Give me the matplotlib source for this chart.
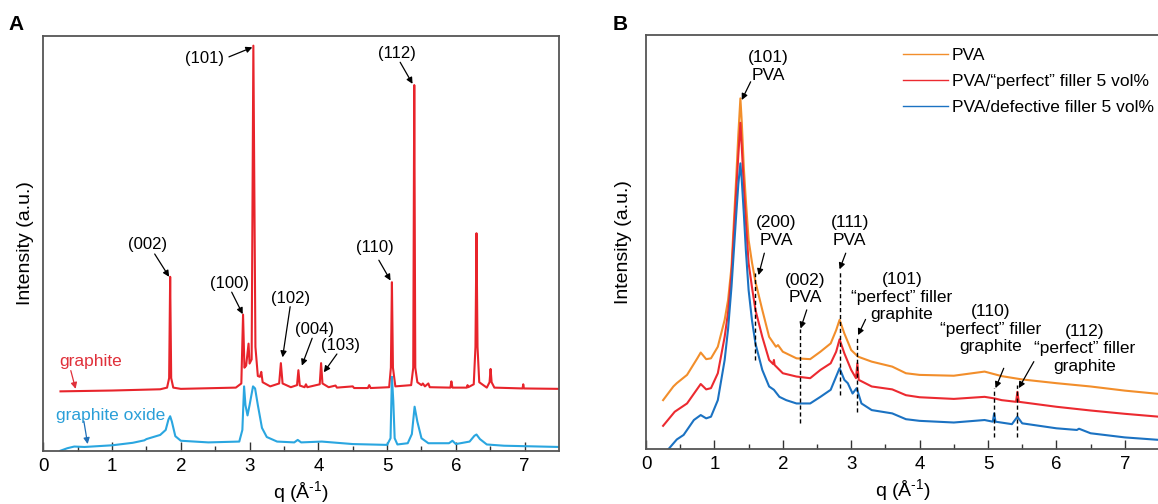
import numpy as np
import matplotlib
matplotlib.use("Agg")
import matplotlib.pyplot as plt

plt.rcParams["font.family"] = ["Liberation Sans", "DejaVu Sans"]
plt.rcParams["mathtext.fontset"] = "custom"
plt.rcParams["mathtext.rm"] = "Liberation Sans"
plt.rcParams["mathtext.default"] = "regular"

# ---- panel A data (intensity in a.u.) ----
graphite_q = [0.25, 1.0, 1.7, 1.80, 1.83, 1.845, 1.86, 1.89, 2.0, 2.8, 2.88, 2.905, 2.925, 2.95,
              2.985, 3.0, 3.03, 3.055, 3.085, 3.12, 3.15, 3.17, 3.19, 3.3, 3.43, 3.455, 3.48,
              3.6, 3.69, 3.71, 3.73, 3.80, 3.82, 3.84, 4.02, 4.04, 4.06, 4.15, 4.25, 4.27,
              4.50, 4.52, 4.72, 4.74, 4.76, 5.03, 5.055, 5.07, 5.085, 5.12, 5.35, 5.38, 5.395,
              5.41, 5.44, 5.5, 5.52, 5.55, 5.6, 5.62, 5.92, 5.935, 5.95, 6.16, 6.17, 6.18,
              6.26, 6.285, 6.30, 6.315, 6.34, 6.45, 6.49, 6.505, 6.52, 6.56, 6.97, 6.98, 6.99, 7.5]
graphite_i = [0.143, 0.145, 0.148, 0.152, 0.175, 0.419, 0.175, 0.152, 0.149, 0.152, 0.162, 0.328,
              0.2, 0.205, 0.258, 0.21, 0.22, 0.976, 0.25, 0.18, 0.178, 0.19, 0.165, 0.155, 0.162,
              0.211, 0.162, 0.153, 0.158, 0.194, 0.157, 0.153, 0.16, 0.153, 0.16, 0.211, 0.162,
              0.153, 0.157, 0.152, 0.155, 0.151, 0.151, 0.158, 0.151, 0.153, 0.2, 0.406, 0.2,
              0.155, 0.158, 0.2, 0.881, 0.2, 0.165, 0.158, 0.162, 0.155, 0.162, 0.153, 0.152,
              0.167, 0.152, 0.152, 0.158, 0.153, 0.16, 0.25, 0.524, 0.25, 0.165, 0.152, 0.165,
              0.197, 0.165, 0.152, 0.15, 0.16, 0.15, 0.149]

go_q = [0.25, 0.35, 0.45, 0.6, 1.0, 1.3, 1.47, 1.5, 1.7, 1.78, 1.82, 1.845, 1.87, 1.92, 2.0,
        2.4, 2.85, 2.895, 2.92, 2.94, 2.97, 3.0, 3.05, 3.08, 3.12, 3.18, 3.25, 3.4, 3.65, 3.7,
        3.75, 3.9, 4.05, 4.5, 5.0, 5.05, 5.07, 5.09, 5.11, 5.15, 5.3, 5.36, 5.40, 5.44, 5.5,
        5.6, 5.9, 5.95, 6.0, 6.2, 6.27, 6.3, 6.35, 6.45, 6.7, 7.5]
go_i = [0.0, 0.006, 0.010, 0.009, 0.013, 0.019, 0.025, 0.028, 0.038, 0.05, 0.075, 0.083, 0.07,
        0.035, 0.024, 0.02, 0.022, 0.05, 0.155, 0.11, 0.085, 0.11, 0.155, 0.15, 0.11, 0.055,
        0.033, 0.022, 0.02, 0.026, 0.02, 0.021, 0.022, 0.016, 0.014, 0.03, 0.178, 0.12, 0.03,
        0.015, 0.018, 0.04, 0.106, 0.07, 0.03, 0.018, 0.018, 0.024, 0.016, 0.022, 0.036,
        0.039, 0.028, 0.015, 0.012, 0.009]

a_labels = ["(002)", "(100)", "(101)", "(102)", "(004)", "(103)", "(110)", "(112)"]
a_text_xy = [(1.52, 0.496), (2.71, 0.402), (2.35, 0.946), (3.60, 0.367), (3.94, 0.293),
             (4.32, 0.253), (4.82, 0.49), (5.15, 0.956)]
a_tail = [(1.62, 0.474), (2.74, 0.382), (2.70, 0.949), (3.59, 0.347), (3.91, 0.271),
          (4.27, 0.233), (4.88, 0.459), (5.19, 0.936)]
a_tip = [(1.83, 0.419), (2.90, 0.329), (3.04, 0.972), (3.48, 0.225), (3.76, 0.205),
         (4.08, 0.189), (5.05, 0.41), (5.37, 0.884)]

# ---- panel B data ----
pva_q = [0.25, 0.4, 0.45, 0.6, 0.75, 0.8, 0.88, 0.95, 1.05, 1.15, 1.2, 1.25, 1.32, 1.35, 1.38,
         1.40, 1.43, 1.46, 1.5, 1.55, 1.6, 1.7, 1.8, 1.9, 1.93, 2.0, 2.2, 2.4, 2.55, 2.7, 2.78,
         2.83, 2.9, 3.0, 3.1, 3.3, 3.6, 3.8, 4.0, 4.5, 4.95, 5.2, 5.5, 6.0, 6.5, 7.0, 7.5]
pva_i = [0.118, 0.151, 0.159, 0.179, 0.219, 0.233, 0.217, 0.219, 0.247, 0.312, 0.36, 0.44,
         0.658, 0.76, 0.847, 0.79, 0.68, 0.6, 0.505, 0.45, 0.404, 0.336, 0.271, 0.247, 0.251,
         0.235, 0.219, 0.217, 0.235, 0.255, 0.287, 0.312, 0.279, 0.239, 0.223, 0.211, 0.199,
         0.183, 0.179, 0.177, 0.187, 0.176, 0.168, 0.159, 0.151, 0.141, 0.133]

perfect_q = [0.25, 0.42, 0.6, 0.8, 0.88, 0.95, 1.05, 1.15, 1.2, 1.25, 1.32, 1.35, 1.38, 1.40,
             1.43, 1.46, 1.5, 1.55, 1.6, 1.7, 1.8, 1.86, 1.87, 1.88, 2.0, 2.2, 2.4, 2.55, 2.7,
             2.78, 2.83, 2.9, 3.0, 3.07, 3.09, 3.11, 3.3, 3.6, 3.8, 4.0, 4.5, 4.95, 5.1, 5.2,
             5.41, 5.43, 5.45, 6.0, 6.5, 7.0, 7.5]
perfect_i = [0.056, 0.09, 0.11, 0.157, 0.144, 0.147, 0.183, 0.271, 0.33, 0.424, 0.626, 0.71,
             0.788, 0.73, 0.634, 0.55, 0.449, 0.39, 0.336, 0.271, 0.215, 0.205, 0.215, 0.203,
             0.183, 0.175, 0.171, 0.191, 0.207, 0.235, 0.265, 0.231, 0.191, 0.171, 0.207, 0.167,
             0.151, 0.144, 0.13, 0.125, 0.121, 0.126, 0.122, 0.118, 0.114, 0.138, 0.114, 0.102,
             0.093, 0.085, 0.078]

defect_q = [0.33, 0.45, 0.55, 0.7, 0.8, 0.88, 0.95, 1.05, 1.15, 1.2, 1.25, 1.32, 1.35, 1.38,
            1.40, 1.43, 1.46, 1.5, 1.55, 1.6, 1.7, 1.8, 1.87, 1.95, 2.05, 2.2, 2.4, 2.55, 2.7,
            2.78, 2.83, 2.9, 2.95, 3.02, 3.08, 3.15, 3.3, 3.6, 3.8, 4.0, 4.5, 4.95, 5.07, 5.09,
            5.11, 5.35, 5.43, 5.5, 6.0, 6.3, 6.33, 6.5, 7.0, 7.5]
defect_i = [0.0, 0.023, 0.034, 0.07, 0.082, 0.074, 0.078, 0.118, 0.215, 0.29, 0.392, 0.569,
            0.64, 0.69, 0.65, 0.569, 0.48, 0.384, 0.31, 0.255, 0.191, 0.151, 0.143, 0.126, 0.118,
            0.11, 0.11, 0.126, 0.143, 0.175, 0.195, 0.167, 0.159, 0.134, 0.147, 0.11, 0.094,
            0.086, 0.072, 0.068, 0.064, 0.07, 0.066, 0.086, 0.066, 0.06, 0.078, 0.062, 0.05,
            0.046, 0.049, 0.038, 0.028, 0.022]

dash_q = [1.6, 2.25, 2.83, 3.08, 5.09, 5.43]
dash_top = [0.424, 0.291, 0.432, 0.271, 0.147, 0.155]
dash_bot = [0.215, 0.062, 0.13, 0.09, 0.03, 0.03]

b_labels = ["(101)\nPVA", "(200)\nPVA", "(111)\nPVA", "(002)\nPVA",
            "(101)\n\u201cperfect\u201d filler\ngraphite",
            "(110)\n\u201cperfect\u201d filler\ngraphite",
            "(112)\n\u201cperfect\u201d filler\ngraphite"]
b_text_xy = [(1.785, 0.924), (1.90, 0.525), (2.98, 0.525), (2.33, 0.387), (3.74, 0.367),
             (5.04, 0.289), (6.41, 0.242)]
b_tail = [(1.53, 0.887), (1.73, 0.473), (2.92, 0.473), (2.35, 0.336), (3.21, 0.313),
          (5.23, 0.195), (5.67, 0.211)]
b_tip = [(1.40, 0.843), (1.645, 0.42), (2.83, 0.434), (2.26, 0.291), (3.10, 0.275),
         (5.11, 0.147), (5.45, 0.147)]

series_names = ["PVA", "PVA/\u201cperfect\u201d filler 5 vol%", "PVA/defective filler 5 vol%"]

W, H = 1158, 504
fig = plt.figure(figsize=(W / 100, H / 100), dpi=100)
axA = fig.add_axes([43.3 / W, (H - 450.7) / H, (559 - 43.3) / W, (450.7 - 35.7) / H])
axB = fig.add_axes([646 / W, (H - 449) / H, 513 / W, 414 / H])

arrow_kw = dict(arrowstyle="-|>", color="k", lw=0.9, mutation_scale=9, shrinkA=0, shrinkB=0)

# ---- panel A ----
axA.plot(graphite_q, graphite_i, color="#e8242b", lw=1.5)
axA.plot(go_q, go_i, color="#2aa6e0", lw=1.5)
for lbl, txy, tl, tp in zip(a_labels, a_text_xy, a_tail, a_tip):
    axA.text(*txy, lbl, ha="center", va="center", fontsize=12)
    axA.annotate("", xy=tp, xytext=tl, arrowprops=arrow_kw)
axA.text(0.23, 0.215, "graphite", color="#e0303a", fontsize=12.5, va="center")
axA.annotate("", xy=(0.47, 0.149), xytext=(0.40, 0.193),
             arrowprops=dict(arrow_kw, color="#e0303a"))
axA.text(0.19, 0.086, "graphite oxide", color="#2a9fd8", fontsize=12.5, va="center")
axA.annotate("", xy=(0.645, 0.016), xytext=(0.59, 0.071),
             arrowprops=dict(arrow_kw, color="#1f6fb8"))

# ---- panel B ----
axB.plot(pva_q, pva_i, color="#f28e2b", lw=1.5, label=series_names[0])
axB.plot(perfect_q, perfect_i, color="#ec2a30", lw=1.5, label=series_names[1])
axB.plot(defect_q, defect_i, color="#1b72c2", lw=1.5, label=series_names[2])
for q, y0, y1 in zip(dash_q, dash_bot, dash_top):
    axB.plot([q, q], [y0, y1], color="k", lw=1.0, ls=(0, (3, 2)))
for lbl, txy, tl, tp in zip(b_labels, b_text_xy, b_tail, b_tip):
    axB.text(*txy, lbl, ha="center", va="center", fontsize=12.5, linespacing=1.2)
    axB.annotate("", xy=tp, xytext=tl, arrowprops=arrow_kw)
leg = axB.legend(loc="upper left", bbox_to_anchor=(0.501, 0.968), frameon=False,
                 fontsize=12.5, handlelength=2.6, handletextpad=0.2, labelspacing=0.62,
                 borderpad=0, borderaxespad=0)
for h in leg.get_lines():
    h.set_linewidth(1.0)

for ax, lx in ((axA, -0.018), (axB, -0.027)):
    ax.set_xlim(0, 7.5)
    ax.set_ylim(0, 1)
    ax.set_xticks(np.arange(0, 8, 1))
    ax.set_xticks(np.arange(0.5, 7.5, 1), minor=True)
    ax.set_yticks([])
    ax.tick_params(axis="x", which="major", direction="in", length=6.5, width=1.0,
                   labelsize=13.5, pad=5, color="#333333")
    ax.tick_params(axis="x", which="minor", direction="in", length=3.4, width=1.0,
                   color="#333333")
    for s in ax.spines.values():
        s.set_color("#555555")
        s.set_linewidth(1.3)
    ax.set_xlabel(r"q ($\AA^{\text{-}1}$)", fontsize=14, labelpad=3)
    ax.set_ylabel("Intensity (a.u.)", fontsize=14)
    ax.yaxis.set_label_coords(lx, 0.5)

fig.text(8 / W, 1 - 24 / H, "A", fontsize=15, fontweight="bold", va="center")
fig.text(613 / W, 1 - 24 / H, "B", fontsize=15, fontweight="bold", va="center")

fig.savefig("out.png", dpi=100)
